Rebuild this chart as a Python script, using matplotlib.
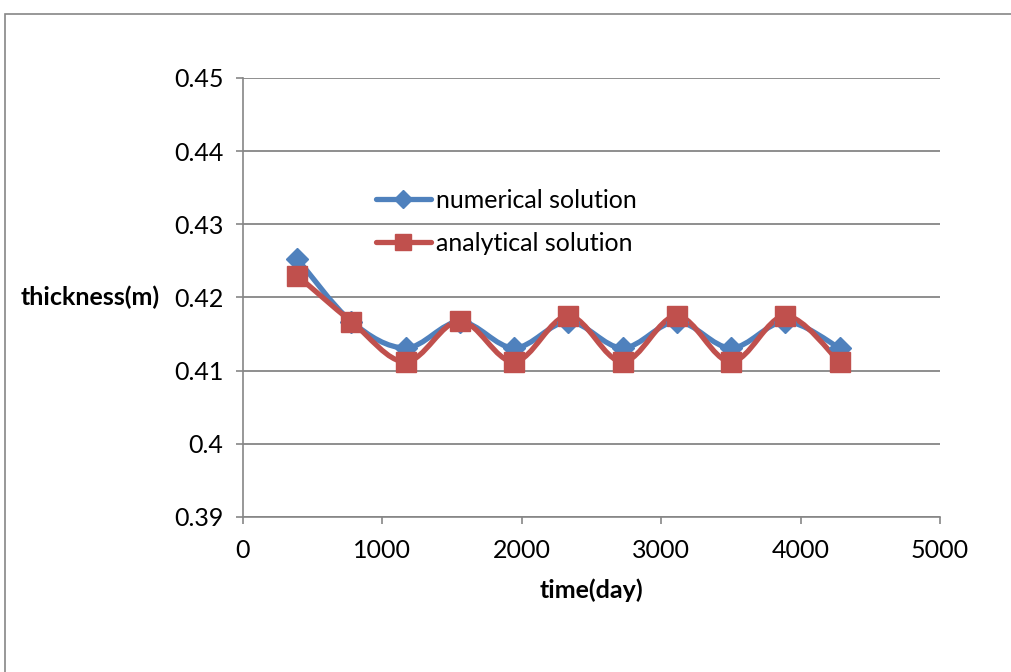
import numpy as np
import matplotlib
matplotlib.use('Agg')
import matplotlib.pyplot as plt
from matplotlib.path import Path
from matplotlib.patches import PathPatch, Rectangle

matplotlib.rcParams.update({'font.family': ['Lato', 'DejaVu Sans'], 'font.size': 18})

# data
time_day = [389, 778, 1167, 1556, 1945, 2334, 2723, 3112, 3501, 3890, 4279]
numerical = [0.4253, 0.4167, 0.4131, 0.4167, 0.4131, 0.4167, 0.4131, 0.4167, 0.4131, 0.4167, 0.4131]
analytical = [0.4230, 0.4167, 0.4112, 0.4168, 0.4112, 0.4175, 0.4112, 0.4175, 0.4112, 0.4175, 0.4112]

BLUE = '#4F81BD'
RED = '#C0504D'
GRID = '#868686'


def smooth_path(x, y):
    # excel-like smoothed line: cubic bezier through the points
    pts = np.column_stack([x, y]).astype(float)
    n = len(pts)
    verts = [pts[0]]
    codes = [Path.MOVETO]
    for i in range(n - 1):
        p0 = pts[i - 1] if i > 0 else pts[i]
        p1, p2 = pts[i], pts[i + 1]
        p3 = pts[i + 2] if i + 2 < n else pts[i + 1]
        c1 = p1 + (p2 - p0) / 6.0
        c2 = p2 - (p3 - p1) / 6.0
        verts += [c1, c2, p2]
        codes += [Path.CURVE4] * 3
    return Path(verts, codes)


fig = plt.figure(figsize=(10.12, 6.72), dpi=100)
ax = fig.add_axes([0.2401, 0.2307, 0.6888, 0.6533])

for xs, ys, col, mk, ms, lab in [(time_day, numerical, BLUE, 'D', 11, 'numerical solution'),
                                 (time_day, analytical, RED, 's', 14, 'analytical solution')]:
    ax.add_patch(PathPatch(smooth_path(xs, ys), fc='none', ec=col, lw=3.8, capstyle='round', zorder=3))
    ax.plot(xs, ys, ls='none', marker=mk, ms=ms, color=col, zorder=4)
    # legend proxy
    ax.plot([], [], '-', marker=mk, ms=ms * 0.8, color=col, lw=3.8, solid_capstyle='round', label=lab)

ax.set_xlim(0, 5000)
ax.set_ylim(0.39, 0.45)
ax.set_xticks(np.arange(0, 5001, 1000))
ax.set_yticks(np.arange(0.39, 0.4501, 0.01))
ax.set_yticklabels(['0.39', '0.4', '0.41', '0.42', '0.43', '0.44', '0.45'])
ax.grid(axis='y', color=GRID, lw=1.3)
ax.set_axisbelow(True)
for s in ['top', 'right']:
    ax.spines[s].set_visible(False)
for s in ['left', 'bottom']:
    ax.spines[s].set_color(GRID)
    ax.spines[s].set_linewidth(1.2)
ax.tick_params(axis='both', colors=GRID, labelcolor='black', length=5, width=1.2)
ax.tick_params(axis='y', pad=9)
ax.tick_params(axis='x', pad=11)

ax.set_xlabel('time(day)', fontweight='bold', labelpad=12)
ax.set_ylabel('thickness(m)', fontweight='bold', rotation=0, ha='right', va='center', labelpad=10)

ax.legend(loc='upper left', bbox_to_anchor=(0.3715, 0.719), bbox_transform=fig.transFigure,
          frameon=False, handlelength=2.2, handletextpad=0.2, borderpad=0, borderaxespad=0,
          labelspacing=0.8)

# chart border (gray frame running off the image)
fig.patches.append(Rectangle((0.005, -0.1), 1.2, 1.079, transform=fig.transFigure,
                             fill=False, ec=GRID, lw=1.2, clip_on=False))

fig.savefig('out.png', dpi=100)
